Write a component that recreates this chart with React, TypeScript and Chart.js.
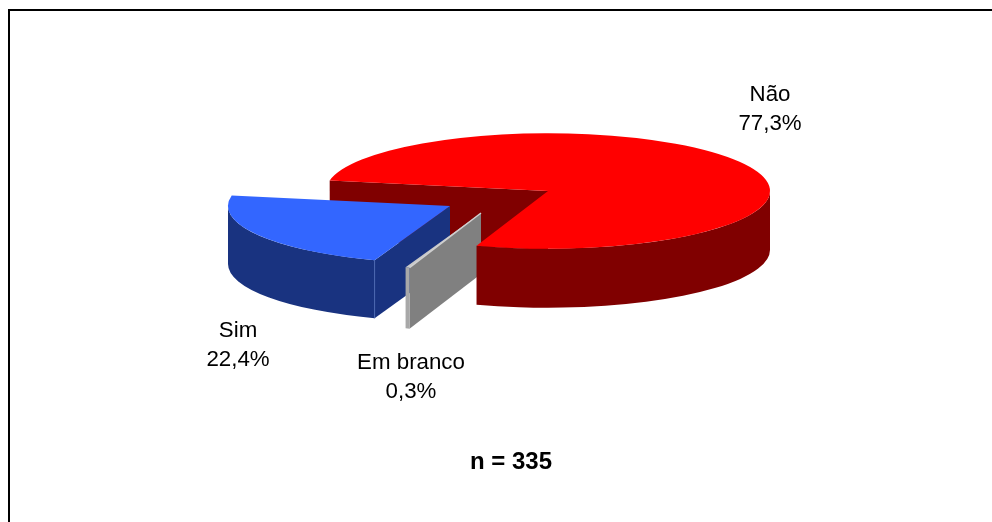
import React, { useEffect, useRef } from "react";
import { Chart, registerables } from "chart.js";

Chart.register(...registerables);

const categories = ["Não", "Em branco", "Sim"];
const values = [77.3, 0.3, 22.4];
const topColors = ["#ff0000", "#c8c8c8", "#3366ff"];
const wallColors = ["#800000", "#a8a8a8", "#193380"];
const faceColors = ["#800000", "#808080", "#193380"];
const footnote = "n = 335";

// Drawing layout (pixels on the page)
const SQUASH = 0.26;
const RADIUS = 222;
const ROTATION = 280.5;
const sliceDepths = [59, 61, 58];
const sliceCentres = [
  { x: 548, y: 191 },
  { x: 481, y: 213 },
  { x: 450, y: 206 },
];
const labelAnchors = [
  { x: 770, y: 101 },
  { x: 411, y: 369 },
  { x: 238, y: 337 },
];
const LABEL_FONT = '22.3px "Liberation Sans", Arial, sans-serif';
const NOTE_FONT = 'bold 24px "Liberation Sans", Arial, sans-serif';

const pie3d = {
  id: "pie3d",
  beforeDatasetsDraw(chart: any) {
    const ctx: CanvasRenderingContext2D = chart.ctx;
    const arcs = chart.getDatasetMeta(0).data;

    const geom = (i: number) => {
      const p = arcs[i].getProps(["x", "y", "startAngle", "endAngle", "outerRadius"], true);
      return { ...p, c: sliceCentres[i], ry: p.outerRadius * SQUASH, d: sliceDepths[i] };
    };

    const cutFace = (i: number, angle: number, color: string) => {
      const g = geom(i);
      const ox = g.c.x + g.outerRadius * Math.cos(angle);
      const oy = g.c.y + g.ry * Math.sin(angle);
      ctx.fillStyle = color;
      ctx.beginPath();
      ctx.moveTo(g.c.x, g.c.y);
      ctx.lineTo(ox, oy);
      ctx.lineTo(ox, oy + g.d);
      ctx.lineTo(g.c.x, g.c.y + g.d);
      ctx.closePath();
      ctx.fill();
    };

    const outerWall = (i: number) => {
      const g = geom(i);
      const full = Math.PI * 2;
      ctx.fillStyle = wallColors[i];
      for (let k = 0; k < 2; k++) {
        const a = Math.max(g.startAngle, k * full);
        const b = Math.min(g.endAngle, k * full + Math.PI);
        if (b <= a) continue;
        ctx.beginPath();
        ctx.ellipse(g.c.x, g.c.y, g.outerRadius, g.ry, 0, a, b, false);
        ctx.ellipse(g.c.x, g.c.y + g.d, g.outerRadius, g.ry, 0, b, a, true);
        ctx.closePath();
        ctx.fill();
      }
    };

    const top = (i: number) => {
      const g = geom(i);
      ctx.save();
      ctx.translate(g.c.x, g.c.y);
      ctx.scale(1, SQUASH);
      ctx.translate(-g.x, -g.y);
      arcs[i].draw(ctx);
      ctx.restore();
    };

    const [no, blank, yes] = [0, 1, 2];

    ctx.save();
    // frame
    ctx.fillStyle = "#000000";
    ctx.fillRect(8, 9, 984, 2);
    ctx.fillRect(8, 9, 2, 513);

    cutFace(no, geom(no).startAngle, faceColors[no]);

    outerWall(yes);
    cutFace(yes, geom(yes).startAngle, faceColors[yes]);
    top(yes);
    const gy = geom(yes);
    const ex = gy.c.x + gy.outerRadius * Math.cos(gy.startAngle);
    const ey = gy.c.y + gy.ry * Math.sin(gy.startAngle);
    ctx.strokeStyle = "#4a66b0";
    ctx.lineWidth = 1;
    ctx.beginPath();
    ctx.moveTo(ex, ey);
    ctx.lineTo(ex, ey + gy.d);
    ctx.stroke();

    cutFace(blank, geom(blank).startAngle, faceColors[blank]);
    outerWall(blank);
    top(blank);
    const gb = geom(blank);
    const bx = gb.c.x + gb.outerRadius * Math.cos(gb.startAngle);
    const by = gb.c.y + gb.ry * Math.sin(gb.startAngle);
    ctx.strokeStyle = "#d0d0d0";
    ctx.lineWidth = 1.5;
    ctx.beginPath();
    ctx.moveTo(gb.c.x, gb.c.y);
    ctx.lineTo(bx, by);
    ctx.stroke();

    outerWall(no);
    top(no);

    // labels
    ctx.fillStyle = "#000000";
    ctx.textAlign = "center";
    ctx.textBaseline = "alphabetic";
    ctx.font = LABEL_FONT;
    categories.forEach((name, i) => {
      const a = labelAnchors[i];
      ctx.fillText(name, a.x, a.y);
      ctx.fillText(values[i].toFixed(1).replace(".", ",") + "%", a.x, a.y + 29);
    });
    ctx.font = NOTE_FONT;
    ctx.fillText(footnote, 511, 469);
    ctx.restore();
    return false;
  },
};

export default function App() {
  const ref = useRef<HTMLCanvasElement>(null);
  useEffect(() => {
    const chart = new Chart(ref.current as HTMLCanvasElement, {
      type: "pie",
      data: {
        labels: categories,
        datasets: [
          {
            data: values,
            backgroundColor: topColors,
            borderWidth: 0,
            radius: RADIUS,
            rotation: ROTATION,
          } as any,
        ],
      },
      options: {
        responsive: false,
        animation: false,
        layout: { padding: 0 },
        plugins: { legend: { display: false }, tooltip: { enabled: false }, title: { display: false } },
      },
      plugins: [pie3d],
    });
    return () => chart.destroy();
  }, []);
  return (
    <canvas
      ref={ref}
      width={992}
      height={522}
      style={{ position: "fixed", left: 0, top: 0, width: 992, height: 522, background: "#fff" }}
    />
  );
}
